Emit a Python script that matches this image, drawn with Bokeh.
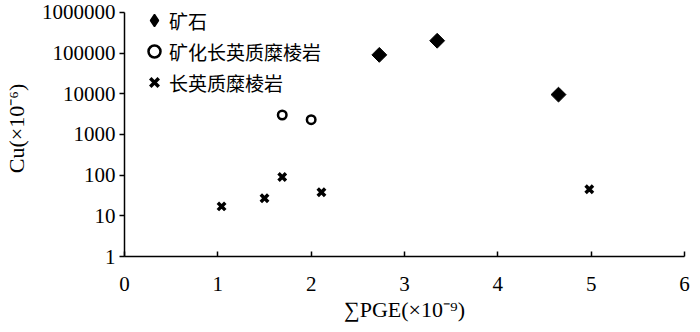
import math
from bokeh.plotting import figure
from bokeh.models import Range1d, FixedTicker, Legend, LegendItem
from bokeh.embed import file_html
from bokeh.resources import INLINE

# data
ore_x = [2.73, 3.35, 4.65]
ore_y = [90000, 200000, 9500]
min_x = [1.69, 2.00]
min_y = [3000, 2300]
myl_x = [1.04, 1.50, 1.69, 2.11, 4.98]
myl_y = [17, 27, 90, 38, 45]
x_ticks = [0, 1, 2, 3, 4, 5, 6]
y_ticks = [1, 10, 100, 1000, 10000, 100000, 1000000]
y_tick_labels = ["1", "10", "100", "1000", "10000", "100000", "1000000"]
series_names = ["矿石", "矿化长英质糜棱岩", "长英质糜棱岩"]

SERIF = "Times New Roman"
CJK = "Noto Sans CJK SC"

# frame: top at canvas top; 1e6 sits 12px below it
decade_px = 248 / 6
y_top = 10 ** (6 + 12 / decade_px)
p = figure(width=692, height=324, output_backend="svg", toolbar_location=None,
           y_axis_type="log", x_range=Range1d(0, 6), y_range=Range1d(1, y_top),
           min_border_left=118, min_border_right=8, min_border_top=0, min_border_bottom=64)
p.outline_line_color = None
p.grid.grid_line_color = None
p.background_fill_color = "white"

# legend swatch for ore (legend glyphs are never rotated); tiny, hidden under the data marks
r1_key = p.scatter(ore_x, ore_y, marker="diamond", size=1, fill_color="black",
                   line_color="black", line_width=1.5)
# ore: rotated squares (diamonds)
r1 = p.scatter(ore_x, ore_y, marker="square", angle=math.pi / 4, size=10.5,
               fill_color="black", line_color="black")
r2 = p.scatter(min_x, min_y, marker="circle", size=8.5, fill_color=None,
               line_color="black", line_width=2.5)
r3 = p.scatter(myl_x, myl_y, marker="x", size=10.5, line_color="black", line_width=3.5)

for ax in (p.xaxis[0], p.yaxis[0]):
    ax.minor_tick_line_color = None
    ax.axis_line_width = 1.5
    ax.axis_line_color = "black"
    ax.major_tick_line_width = 1.5
    ax.major_tick_line_color = "black"
    ax.major_label_text_font = SERIF
    ax.major_label_text_font_size = "21px"
    ax.major_label_text_color = "black"
    ax.axis_label_text_font = SERIF
    ax.axis_label_text_font_size = "22px"
    ax.axis_label_text_font_style = "normal"
    ax.axis_label_text_color = "black"

xa = p.xaxis[0]
xa.ticker = FixedTicker(ticks=x_ticks)
xa.major_tick_in = 5
xa.major_tick_out = 0
xa.major_label_standoff = 20
xa.axis_label = "∑PGE(×10⁻⁹)"
xa.axis_label_standoff = 3

ya = p.yaxis[0]
ya.ticker = FixedTicker(ticks=y_ticks)
ya.bounds = (1, 1000000)
ya.major_label_overrides = {t: s for t, s in zip(y_ticks, y_tick_labels)}
ya.major_tick_in = 0
ya.major_tick_out = 5
ya.major_label_standoff = 4
ya.axis_label = "Cu(×10⁻⁶)"
ya.axis_label_standoff = 10

legend = Legend(items=[LegendItem(label=series_names[0], renderers=[r1_key]),
                       LegendItem(label=series_names[1], renderers=[r2]),
                       LegendItem(label=series_names[2], renderers=[r3])],
                location=(15, 159))
legend.background_fill_alpha = 0
legend.border_line_color = None
legend.padding = 0
legend.margin = 0
legend.glyph_width = 30
legend.glyph_height = 30
legend.spacing = 1
legend.label_standoff = 0
legend.label_text_font = CJK
legend.label_text_font_size = "19px"
legend.label_text_color = "black"
legend.label_height = 30
p.add_layout(legend, "center")

open("out.html", "w").write(file_html(p, INLINE))
